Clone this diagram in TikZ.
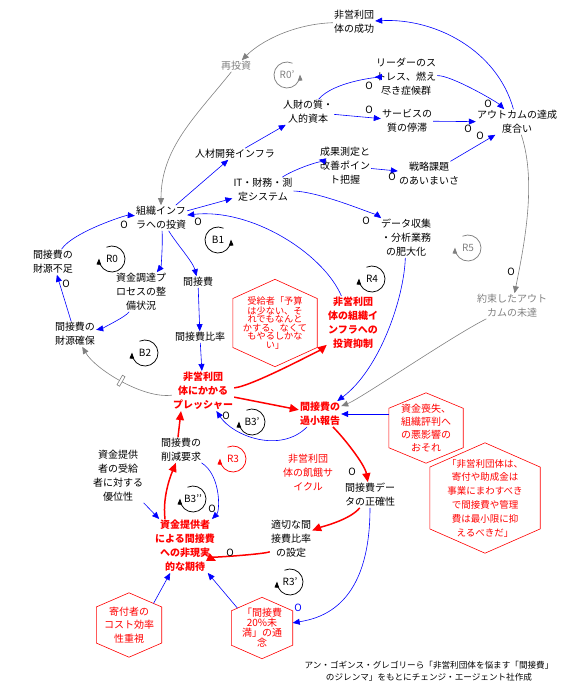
\documentclass[tikz,border=0pt]{standalone}
\usepackage{fontspec}
\setmainfont{Noto Sans CJK JP}
\usetikzlibrary{arrows.meta, calc}
\definecolor{cldblue}{RGB}{0,0,255}
\definecolor{cldred}{RGB}{255,0,0}
\definecolor{cldgray}{RGB}{128,128,128}

\newcommand{\hexframe}[1]{%
  \draw[hexline] (#1.north)
    -- ($(#1.north east)!.22!(#1.south east)$) coordinate (#1-ne)
    -- ($(#1.north east)!.78!(#1.south east)$) coordinate (#1-se)
    -- (#1.south)
    -- ($(#1.north west)!.78!(#1.south west)$) coordinate (#1-sw)
    -- ($(#1.north west)!.22!(#1.south west)$) coordinate (#1-nw)
    -- cycle;}
\newcommand{\loopleft}[4]{%
  \node[looplabel, text=#4] (#1) at #2 {#3};
  \draw[loopline, draw=#4] (#1) ++(115:13pt) arc[start angle=115, end angle=-182, radius=13pt];}
\newcommand{\loopright}[4]{%
  \node[looplabel, text=#4] (#1) at #2 {#3};
  \draw[loopline, draw=#4] (#1) ++(65:13pt) arc[start angle=65, end angle=362, radius=13pt];}

\begin{document}
\begin{tikzpicture}[x=1pt, y=-1pt,
  var/.style={align=center, inner sep=1pt, font=\fontsize{10}{14}\selectfont},
  keyvar/.style={var, text=cldred, font=\fontsize{10}{14}\selectfont\bfseries},
  grayvar/.style={var, text=cldgray},
  redvar/.style={var, text=cldred},
  hexnode/.style={align=center, inner sep=0pt, text=cldred},
  hexline/.style={draw=cldred, line width=0.6pt},
  link/.style={draw=cldblue, line width=0.6pt, -{Triangle[length=7pt,width=6pt]}},
  redlink/.style={draw=cldred, line width=1.5pt, -{Triangle[length=9pt,width=8pt]}},
  graylink/.style={draw=cldgray, line width=0.6pt, -{Triangle[length=7pt,width=6pt]}},
  omark/.style={inner sep=0pt, font=\fontsize{10}{10}\selectfont},
  looplabel/.style={inner sep=0pt, font=\fontsize{10}{10}\selectfont},
  loopline/.style={line width=0.75pt, -{Triangle[length=6pt,width=4.5pt]}},
  delay/.style={draw=cldgray, fill=white, line width=0.6pt, minimum width=3pt,
                minimum height=11pt, inner sep=0pt, sloped},
]
\useasboundingbox (0,0) rectangle (567,689);

\node[var] (success) at (354,22) {非営利団\\体の成功};
\node[grayvar] (reinv) at (236,66) {再投資};
\node[var] (leader) at (406,77) {リーダーのス\\トレス、燃え\\尽き症候群};
\node[var] (humcap) at (308,112) {人財の質・\\人的資本};
\node[var] (service) at (407,121) {サービスの\\質の停滞};
\node[var] (outcome) at (517,122) {アウトカムの達成\\度合い};
\node[var] (hrinfra) at (235,154) {人材開発インフラ};
\node[var] (itsys) at (263,190) {IT・財務・測\\定システム};
\node[var] (measure) at (345,166) {成果測定と\\改善ポイン\\ト把握};
\node[var] (strategy) at (429,174) {戦略課題\\のあいまいさ};
\node[var] (datawork) at (406,238) {データ収集\\・分析業務\\の肥大化};
\node[var] (orginv) at (161,218) {組織インフ\\ラへの投資};
\node[var] (shortage) at (53,262) {間接費の\\財源不足};
\node[var] (funding) at (141,292) {資金調達プ\\ロセスの整\\備状況};
\node[var] (overhead) at (198,282) {間接費};
\node[var] (secure) at (75,334) {間接費の\\財源確保};
\node[var] (ratio) at (200,337) {間接費比率};
\node[keyvar] (pressure) at (203,391) {非営利団\\体にかかる\\プレッシャー};
\node[keyvar] (restrain) at (353,323) {非営利団\\体の組織イ\\ンフラへの\\投資抑制};
\node[keyvar] (underrep) at (320,414) {間接費の\\過小報告};
\node[grayvar] (unmet) at (512,306) {約束したアウト\\カムの未達};
\node[redvar] (starve) at (308,473) {非営利団\\体の飢餓サ\\イクル};
\node[var] (accuracy) at (370,495) {間接費デー\\タの正確性};
\node[var] (proper) at (291,539) {適切な間\\接費比率\\の設定};
\node[keyvar] (expect) at (185,546) {資金提供者\\による間接費\\への非現実\\的な期待};
\node[var] (power) at (118,476) {資金提供\\者の受給\\者に対する\\優位性};
\node[var] (cutreq) at (181,450) {間接費の\\削減要求};

\node[hexnode, minimum width=84pt, minimum height=87pt, font=\fontsize{9.2}{8.4}\selectfont]
  (hbelief) at (275,323) {受給者「予算\\は少ない、そ\\れでもなんと\\かする、なくて\\もやるしかな\\い」};
\node[hexnode, minimum width=74pt, minimum height=70pt, font=\fontsize{10}{13}\selectfont]
  (hloss) at (426,428) {資金喪失、\\組織評判へ\\の悪影響の\\おそれ};
\node[hexnode, minimum width=110pt, minimum height=110pt, font=\fontsize{9.5}{13.8}\selectfont]
  (hnorm) at (485,498) {「非営利団体は、\\寄付や助成金は\\事業にまわすべき\\で間接費や管理\\費は最小限に抑\\えるべきだ」};
\node[hexnode, minimum width=61pt, minimum height=61pt, font=\fontsize{10}{10}\selectfont]
  (hrule) at (262,628) {「間接費\\20\%未\\満」の通\\念};
\node[hexnode, minimum width=65pt, minimum height=64pt, font=\fontsize{10}{13.5}\selectfont]
  (hdonor) at (129,625) {寄付者の\\コスト効率\\性重視};
\hexframe{hbelief}
\hexframe{hloss}
\hexframe{hnorm}
\hexframe{hrule}
\hexframe{hdonor}

\node[var, font=\fontsize{8.6}{12.5}\selectfont] (credit) at (429,671)
  {アン・ゴギンス・グレゴリーら「非営利団体を悩ます「間接費」\\のジレンマ」をもとにチェンジ・エージェント社作成};

\loopright{lr0p}{(287,75)}{R0'}{cldgray}
\loopleft{lr0}{(112,259)}{R0}{black}
\loopright{lb1}{(218,240)}{B1}{black}
\loopleft{lb2}{(145,353)}{B2}{black}
\loopleft{lr4}{(372,279)}{R4}{black}
\loopleft{lr5}{(468,248)}{R5}{cldgray}
\loopleft{lb3p}{(252,422)}{B3'}{black}
\loopleft{lr3}{(233,459)}{R3}{cldred}
\loopleft{lb3pp}{(193,499)}{B3'{}'}{black}
\loopleft{lr3p}{(290,582)}{R3'}{black}

\draw[link] (outcome) .. controls +(-20,-72) and +(81,-4) .. (success);
\draw[graylink] (success) .. controls +(-60,2) and +(25,-25) .. (reinv);
\draw[graylink] (reinv) .. controls +(-40,50) and +(0,-70) .. (orginv);
\draw[link] (orginv) -- (hrinfra);
\draw[link] (hrinfra) -- (humcap);
\draw[link] (orginv) -- (itsys);
\draw[link] (itsys) .. controls +(30,-20) and +(-25,-6) .. (measure);
\draw[link] (itsys) .. controls +(60,2) and +(-25,-20) .. (datawork);
\draw[link] (measure) -- (strategy);
\draw[link] (strategy) -- (outcome);
\draw[link] (humcap) .. controls +(25,-30) and +(-30,0) .. (leader);
\draw[link] (humcap) -- (service);
\draw[link] (leader) .. controls +(45,-2) and +(-20,-20) .. (outcome);
\draw[link] (service) -- (outcome);
\draw[graylink] (outcome) .. controls +(20,60) and +(12,-60) .. (unmet);
\draw[graylink] (unmet) .. controls +(-60,30) and +(40,-15) .. (underrep);
\draw[link] (datawork) .. controls +(-2,60) and +(60,-45) .. (underrep);
\draw[link] (restrain) .. controls +(-30,-70) and +(90,-10) .. (orginv);
\draw[link] (orginv) .. controls +(2,25) and +(20,-25) .. (funding);
\draw[link] (orginv) .. controls +(15,25) and +(-5,-20) .. (overhead);
\draw[link] (overhead) -- (ratio);
\draw[link] (ratio) -- (pressure);
\draw[link] (funding) .. controls +(-15,25) and +(25,-5) .. (secure);
\draw[link] (secure) -- (shortage);
\draw[link] (shortage) .. controls +(20,-30) and +(-35,-3) .. (orginv);
\draw[graylink] (pressure) .. controls +(-60,8) and +(20,35) .. (secure)
  node[delay, pos=.5] (dly) {};
\draw[redlink] (pressure) .. controls +(50,-5) and +(-30,25) .. (restrain);
\draw[redlink] (pressure) -- (underrep);
\draw[link] (underrep) .. controls +(-40,40) and +(30,45) .. (pressure);
\draw[link] ([yshift=14pt]hloss.west) -- (underrep);
\draw[redlink] (underrep) .. controls +(25,25) and +(-5,-30) .. (accuracy);
\draw[redlink] (accuracy) .. controls +(-20,25) and +(30,-12) .. (proper);
\draw[link] (accuracy) .. controls +(0,110) and +(60,-10) .. (hrule);
\draw[redlink] (proper) .. controls +(-25,15) and +(25,12) .. (expect);
\draw[redlink] ([xshift=-20pt]expect.north) .. controls +(-3,-25) and +(-8,20) .. (cutreq);
\draw[redlink] ([xshift=-3pt]cutreq.north) -- ([xshift=-22pt]pressure.south);
\draw[link] (cutreq) .. controls +(40,25) and +(35,-35) .. (expect);
\draw[link] (power) -- (expect);
\draw[link] ($(hdonor.north)!.75!(hdonor-ne)$) -- (expect);
\draw[link] ($(hrule.north)!.8!(hrule-nw)$) -- (expect);

\node[omark] (o1) at (366,221) {O};
\node[omark] (o2) at (392,177) {O};
\node[omark] (o3) at (480,136) {O};
\node[omark] (o4) at (369,86) {O};
\node[omark] (o5) at (369,110) {O};
\node[omark] (o6) at (488,104) {O};
\node[omark] (o7) at (468,129) {O};
\node[omark] (o8) at (511,272) {O};
\node[omark] (o9) at (198,222) {O};
\node[omark] (o10) at (66,284) {O};
\node[omark] (o11) at (124,225) {O};
\node[omark] (o12) at (226,416) {O};
\node[omark] (o13) at (352,472) {O};
\node[omark, text=cldblue] (o14) at (298,608) {O};
\node[omark] (o15) at (230,553) {O};
\node[omark] (o16) at (212,509) {O};
\end{tikzpicture}
\end{document}
